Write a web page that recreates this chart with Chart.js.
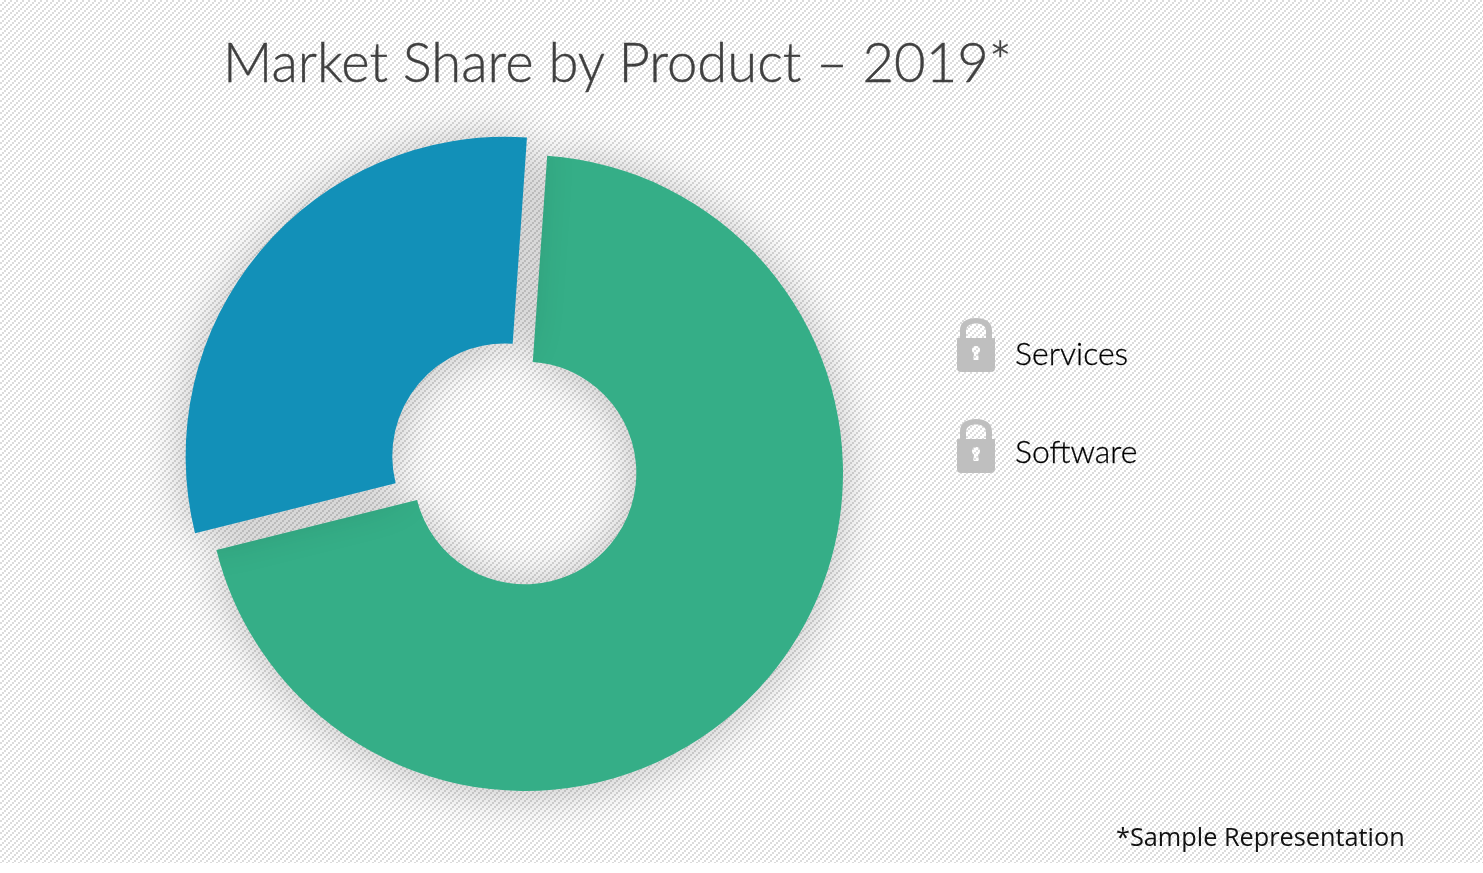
<!DOCTYPE html>
<html><head><meta charset="utf-8">
<style>
html,body{margin:0;padding:0;width:1483px;height:873px;overflow:hidden;background:#fff}
#bg{position:absolute;left:0;top:0;width:1483px;height:863px;
background-image:url("data:image/svg+xml,%3Csvg xmlns='http://www.w3.org/2000/svg' width='6' height='6' shape-rendering='crispEdges'%3E%3Cpath fill='%23dcdcdc' d='M0 4h2v2H0zM2 2h2v2H2zM4 0h2v2H4z'/%3E%3C/svg%3E");background-size:6px 6px}
#c{position:absolute;left:0;top:0}
.t{position:absolute;white-space:nowrap;line-height:1}
#title{left:223px;top:28px;font:300 54.4px "Lato","Open Sans",sans-serif;color:#404040;-webkit-text-stroke:0.4px #404040}
#note{left:1116px;top:819px;font:25.3px "Open Sans",sans-serif;color:#111}
.lg{font:300 32px "Lato",sans-serif;color:#000;-webkit-text-stroke:0.3px #000}
.ic{position:absolute;left:957px;width:38px;height:54px}
</style></head><body>
<div id="bg"></div>
<canvas id="c" width="1483" height="873"></canvas>
<div id="title" class="t"></div>
<div id="legend"></div>
<div id="note" class="t"></div>
<script src="https://cdn.jsdelivr.net/npm/chart.js@4/dist/chart.umd.min.js"></script>
<script>
const titleText = "Market Share by Product \u2013 2019*";
const noteText = "*Sample Representation";
const categories = ["Software", "Services"];
const shares = [70, 30];
const colors = ["#35AE87", "#1290B8"];
const legendLabels = ["Services", "Software"];

document.getElementById('title').textContent = titleText;
document.getElementById('note').textContent = noteText;
const tops = [318, 419], textTops = [333, 431];
const lockPath = "M3 20 V12 C3 4 10 0 19 0 C28 0 35 4 35 12 V20 H38 V50 Q38 54 34 54 H4 Q0 54 0 50 V20 Z M9 20 H29 V13 C29 8 25 5.5 19 5.5 C13 5.5 9 8 9 13 Z M19 28 C16 28 15 30 15 32 C15 34 16 35 17 36 L16 42 H22 L21 36 C22 35 23 34 23 32 C23 30 22 28 19 28 Z";
document.getElementById('legend').innerHTML = legendLabels.map((l,i)=>
 `<svg class="ic" style="top:${tops[i]}px" viewBox="0 0 38 54"><path fill="#BFBFBF" fill-rule="evenodd" d="${lockPath}"/></svg>`+
 `<div class="t lg" style="left:1015px;top:${textTops[i]}px">${l}</div>`).join('');

const shadow = {
  id:'shadow',
  beforeDatasetsDraw(ch){const x=ch.ctx;x.save();x.shadowColor='rgba(0,0,0,0.25)';x.shadowBlur=46;x.shadowOffsetX=0;x.shadowOffsetY=2;},
  afterDatasetsDraw(ch){ch.ctx.restore();}
};
new Chart(document.getElementById('c'),{
  type:'doughnut',
  data:{labels:categories,datasets:[{data:shares,backgroundColor:colors,borderWidth:0,offset:[0,105]}]},
  options:{
    responsive:false,animation:false,
    rotation:4,cutout:'35%',
    layout:{padding:{left:154.5,right:587.5,top:102.5,bottom:29.5}},
    plugins:{legend:{display:false},title:{display:false},tooltip:{enabled:false}}
  },
  plugins:[shadow]
});
</script>
</body></html>
